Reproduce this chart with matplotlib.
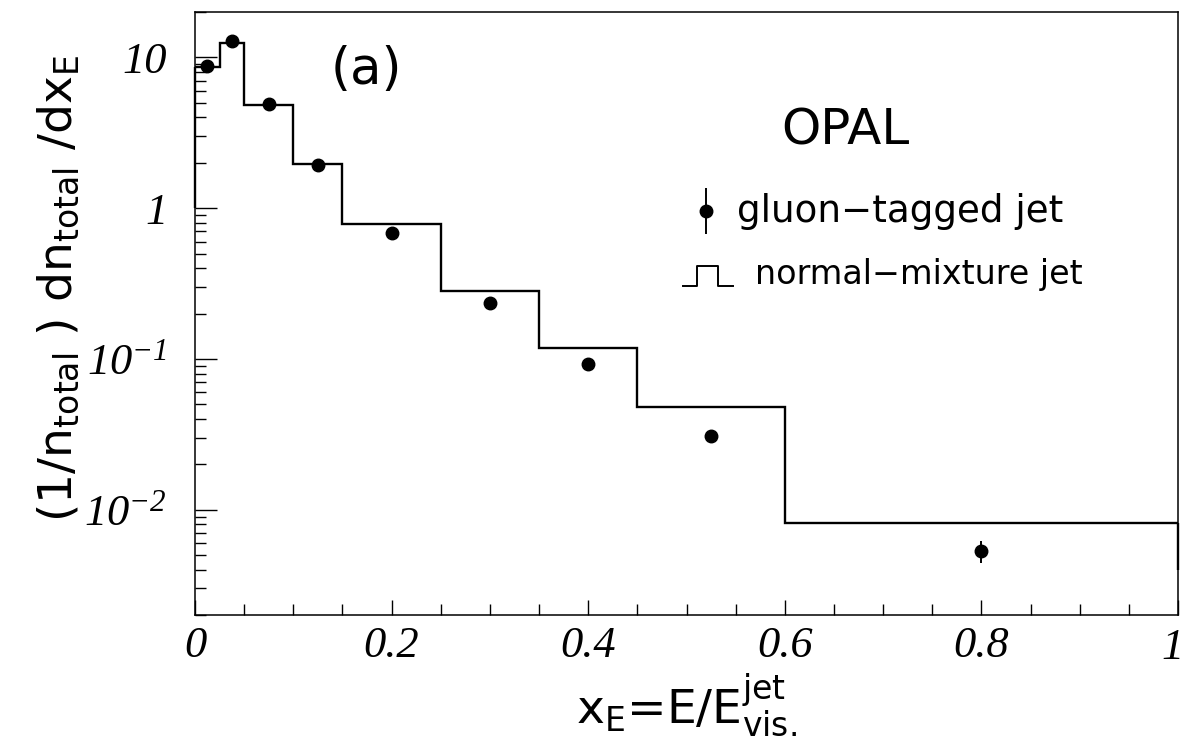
import numpy as np
import matplotlib.pyplot as plt
from matplotlib.ticker import LogLocator, FuncFormatter, MultipleLocator, NullFormatter

# gluon-tagged jets (points) vs normal-mixture jets (histogram), OPAL
x_gluon = [0.0125, 0.0375, 0.075, 0.125, 0.2, 0.3, 0.4, 0.525, 0.8]
y_gluon = [8.8, 12.8, 4.9, 1.93, 0.68, 0.236, 0.093, 0.0307, 0.0053]
err_gluon = [0.15, 0.2, 0.06, 0.02, 0.008, 0.004, 0.002, 0.003, 0.0009]

bin_edges = [0.0, 0.025, 0.05, 0.1, 0.15, 0.25, 0.35, 0.45, 0.6, 1.0]
y_mixture = [8.7, 12.4, 4.86, 1.96, 0.78, 0.28, 0.118, 0.048, 0.0081]
# the outline drops at both ends of the histogram
end_drops = [1.0, 0.004]

plt.rcParams['mathtext.default'] = 'regular'
plt.rcParams['font.family'] = 'DejaVu Sans'

fig = plt.figure(figsize=(11.86, 7.41), dpi=100)
ax = fig.add_axes([0.1644, 0.170, 0.8289, 0.8138])

ax.stairs(y_mixture, bin_edges, baseline=None, color='black', lw=1.7)
ax.vlines([bin_edges[0], bin_edges[-1]], [end_drops[0], end_drops[1]],
          [y_mixture[0], y_mixture[-1]], color='black', lw=1.7, clip_on=False)
ax.errorbar(x_gluon, y_gluon, yerr=err_gluon, fmt='o', color='black',
            ms=9, elinewidth=1.4, capsize=0)

ax.set_yscale('log')
ax.set_xlim(0, 1)
ax.set_ylim(0.002, 20)

tick_font = dict(family='Liberation Serif', style='italic', size=32)

ax.xaxis.set_major_locator(MultipleLocator(0.2))
ax.xaxis.set_minor_locator(MultipleLocator(0.05))
# the label at x=1 is placed by hand so it stays inside the figure
ax.xaxis.set_major_formatter(FuncFormatter(lambda v, p: '' if v > 0.99 else '%g' % round(v, 2)))
ax.annotate('1', xy=(1, 0), xycoords=('data', 'axes fraction'), xytext=(4, -9),
            textcoords='offset points', ha='right', va='top', **tick_font)

ax.yaxis.set_major_locator(LogLocator(base=10, numticks=10))
ax.yaxis.set_minor_locator(LogLocator(base=10, subs=np.arange(2, 10), numticks=20))
ax.yaxis.set_minor_formatter(NullFormatter())


def ylab(v, p):
    e = int(round(np.log10(v)))
    if e == 0:
        return '1'
    if e == 1:
        return '10'
    return '$10^{%d}$' % e


ax.yaxis.set_major_formatter(FuncFormatter(ylab))

ax.tick_params(which='both', direction='in', top=False, right=False, width=1)
ax.tick_params(axis='y', which='major', length=16, pad=20)
ax.tick_params(axis='y', which='minor', length=8)
ax.tick_params(axis='x', which='major', length=11, pad=8)
ax.tick_params(axis='x', which='minor', length=8)
for lab in ax.get_xticklabels() + ax.get_yticklabels():
    lab.set_fontfamily(tick_font['family'])
    lab.set_fontstyle(tick_font['style'])
    lab.set_fontsize(tick_font['size'])
for sp in ax.spines.values():
    sp.set_linewidth(1.1)

ax.set_ylabel('(1/n$_{total}$ ) dn$_{total}$ /dx$_E$', fontsize=34)
ax.yaxis.set_label_coords(-0.115, 0.542)
ax.set_xlabel('x$_E$=E/E$^{jet}_{vis.}$', fontsize=34)
ax.xaxis.set_label_coords(0.50, -0.094)

ax.text(0.174, 0.904, '(a)', transform=ax.transAxes, fontsize=37,
        ha='center', va='center')
ax.text(0.662, 0.804, 'OPAL', transform=ax.transAxes, fontsize=36,
        ha='center', va='center')

# legend drawn by hand
ax.errorbar([0.520], [0.670], yerr=[0.038], fmt='o', color='black', ms=9,
            elinewidth=1.4, capsize=0, transform=ax.transAxes)
ax.text(0.551, 0.670, 'gluon\u2212tagged jet', transform=ax.transAxes,
        fontsize=26.8, ha='left', va='center')
ax.plot([0.496, 0.511, 0.511, 0.532, 0.532, 0.547],
        [0.546, 0.546, 0.579, 0.579, 0.546, 0.546],
        color='black', lw=1.4, transform=ax.transAxes)
ax.text(0.570, 0.564, 'normal\u2212mixture jet', transform=ax.transAxes,
        fontsize=24, ha='left', va='center')

fig.savefig('out.png', dpi=100)
